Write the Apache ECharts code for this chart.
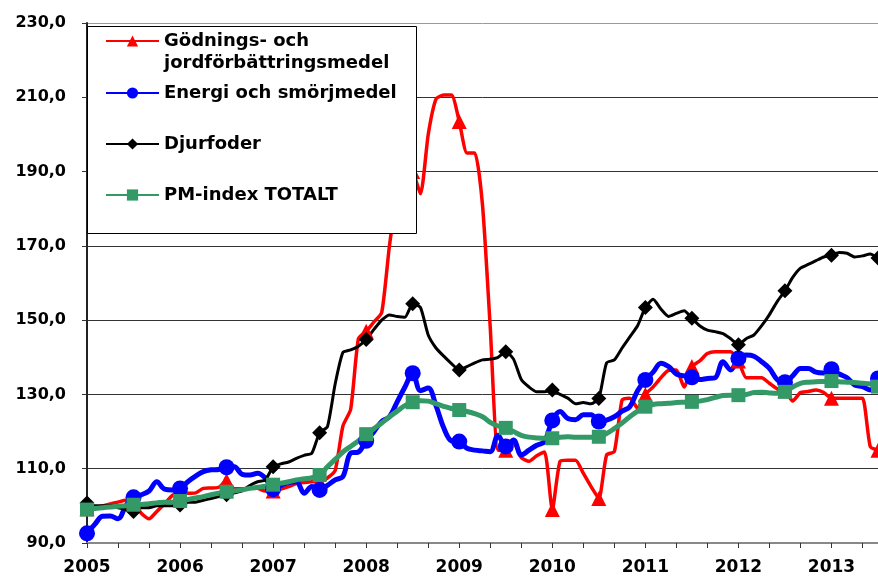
<!DOCTYPE html>
<html><head><meta charset="utf-8">
<script src="https://cdn.jsdelivr.net/npm/echarts@6/dist/echarts.min.js"></script>
<style>html,body{margin:0;padding:0;background:#fff}#c{width:878px;height:579px}</style>
</head><body><div id="c"></div><script>
// Monthly index values, Jan 2005 .. Jul 2013 (103 months)
const yearLabels = ['2005','2006','2007','2008','2009','2010','2011','2012','2013'];
const yTickLabels = ['90,0','110,0','130,0','150,0','170,0','190,0','210,0','230,0'];
const names = ['Gödnings- och\njordförbättringsmedel','Energi och smörjmedel','Djurfoder','PM-index TOTALT'];

const godning = [99.2,99.5,100,100.5,101,101.5,101,98,96.5,98.5,100.5,102.8,
103.4,103.4,103.5,104.7,104.8,105,106.8,104.6,104.6,104.8,104.7,104,
104,104.5,105.2,106,106.3,106.5,106.5,107.5,109.5,121.5,126,145,
147,149.5,152,170,184,191,190,184,200,209.5,210.6,210.6,
203.5,195,195,181,148,115,115,117,113,112,113.5,114.5,
99,112,112.3,112.3,108.8,105.2,102,113.7,114.6,128.5,129,126.3,
130,132,134.5,136.5,136.6,132,137.5,139,141,141.5,141.5,141.5,
139,134.5,134.5,134.5,133,131.5,131,128.2,130.5,130.8,131.2,130.5,
129,129,129,129,129,116,115];

const energi = [92.6,95,97.2,97.3,96.5,100,102.3,103,104,106.5,104.5,104.3,
104.7,106.5,108,109.2,109.7,109.8,110.4,110.5,108.5,108.3,108.8,107.5,
104.5,105.5,106.3,106.5,103.4,105.2,104.3,105.5,107,107.9,114.2,114.5,
117.5,120,122.7,124,128,132,135.7,131,131.7,127,121,117.5,
117.3,115.5,115,114.8,114.6,119,116,117.7,113.7,115,116.3,117.3,
123,125.4,123.5,123.2,124.5,124.5,122.7,123.1,124,125.5,126.7,131,
133.9,136,138.4,137.5,135.5,135,134.6,134,134.3,134.5,138.8,136.6,
139.7,140.6,140.3,138.8,137,134,133.3,135,137,137,136,135.8,
136.8,135.5,134.5,132.5,132.1,131.2,134.3];

const djurfoder = [100.8,100,100,100,99.5,99,98.5,99.5,99.5,100,100,100,
100.2,101,101,101.5,102,102.5,103,103.5,104,105.5,106.5,107,
110.5,111.3,111.8,112.8,113.6,114.2,119.7,121.3,132.8,141.3,142,143,
144.8,147.5,150,151.4,151,150.8,154.4,153.4,146,142.5,140.3,138.3,
136.6,137.5,138.5,139.3,139.5,140,141.5,139.5,134,132,130.7,130.7,
131.2,130,129,127.5,127.8,127.5,128.9,138.5,139.3,142.5,145.5,148.5,
153.4,155.6,153,151,151.8,152.5,150.5,148.5,147.3,146.9,146.4,145,
143.4,145,146,148.5,151.5,155,157.9,161.5,164,165,166,167,
167.5,168.2,168,167,167.3,167.8,166.7];

const pmTotal = [99,99.3,99.5,99.7,99.9,100,100.3,100.4,100.6,100.8,101,101,
101.3,101.7,102.1,102.5,103,103.4,103.8,104,104.3,104.7,105,105.3,
105.7,106.1,106.5,107,107.3,107.6,108.3,110.5,112.5,114.5,116,117.5,
119.3,120.8,122.3,124,125.5,127,127.9,128.3,128.2,127.5,126.8,126.2,
125.8,125.4,124.8,124,122.5,121.5,121,120,119,118.5,118.3,118.2,
118.2,118.5,118.6,118.5,118.5,118.5,118.6,119.5,120.8,122.3,124,125.5,
126.7,127.3,127.5,127.6,127.8,127.9,128,128.2,128.6,129.2,129.7,129.8,
129.8,130,130.5,130.6,130.4,130.3,130.7,132,133,133.3,133.4,133.5,
133.6,133.4,133.3,133.2,133,132.8,132.1];

function toData(arr) {
  return arr.map((v, i) => ({ value: [i, v], symbol: i % 6 === 0 ? undefined : 'none' }));
}

const FONT = 'DejaVu Sans';
const chart = echarts.init(document.getElementById('c'), null, { renderer: 'canvas' });

function mkSeries(name, arr, color, width, symbol, size, smooth) {
  return {
    name, type: 'line', data: toData(arr), symbol, symbolSize: size, smooth,
    lineStyle: { color, width }, itemStyle: { color }, showAllSymbol: true,
    emphasis: { disabled: true }, zlevel: 0, z: 2
  };
}

const legendText = {
  fontFamily: FONT, fontWeight: 'bold', fontSize: 18, color: '#000', lineHeight: 22,
  rich: {
    e: { fontFamily: FONT, fontWeight: 'bold', fontSize: 18, lineHeight: 22, color: '#000' },
    a: { fontFamily: FONT, fontWeight: 'bold', fontSize: 18, lineHeight: 22, color: '#000' }
  }
};
function mkLegend(name, left, top, extra) {
  return Object.assign({
    data: [name], left, top, orient: 'vertical', padding: 0, zlevel: 3, z: 5,
    itemWidth: 53, itemHeight: 14, itemGap: 0, selectedMode: false,
    textStyle: legendText
  }, extra || {});
}

chart.setOption({
  animation: false,
  backgroundColor: '#fff',
  grid: { left: 87, right: 0, top: 23, bottom: 36 },
  xAxis: {
    type: 'value', min: 0, max: 102, interval: 4,
    axisLine: { show: true, lineStyle: { color: '#888', width: 2 } },
    axisTick: { show: true, length: 5, lineStyle: { color: '#333', width: 1 } },
    splitLine: { show: false },
    axisLabel: {
      margin: 16, fontFamily: FONT, fontWeight: 'bold', fontSize: 17, color: '#000',
      showMaxLabel: false,
      formatter: v => (v % 12 === 0 ? yearLabels[v / 12] : '')
    }
  },
  yAxis: {
    type: 'value', min: 90, max: 230, interval: 20,
    axisLine: { show: true, lineStyle: { color: '#222', width: 2 } },
    axisTick: { show: true, length: 5, lineStyle: { color: '#333', width: 1 } },
    splitLine: { show: true, lineStyle: { color: ['#555','#333','#333','#333','#333','#333','#333','#999'], width: 1 } },
    axisLabel: {
      margin: 21, fontFamily: FONT, fontWeight: 'bold', fontSize: 16, color: '#000',
      formatter: v => yTickLabels[(v - 90) / 20]
    }
  },
  graphic: [{
    type: 'rect', zlevel: 2, z: 100, silent: true,
    shape: { x: 87.5, y: 26.5, width: 329, height: 207 },
    style: { fill: '#ffffff', stroke: '#000', lineWidth: 1 }
  }],
  legend: [
    mkLegend(names[0], 105, 8, {
      formatter: n => '{e| }\n' + n.split('\n').map(s => '{a|' + s + '}').join('\n')
    }),
    mkLegend(names[1], 105, 82),
    mkLegend(names[2], 105, 133),
    mkLegend(names[3], 105, 184)
  ],
  series: [
    mkSeries(names[0], godning, '#ff0000', 3.5, 'triangle', 15, 0.2),
    mkSeries(names[1], energi, '#0000ff', 5, 'circle', 16, 0.35),
    mkSeries(names[2], djurfoder, '#000000', 3, 'diamond', 15, 0.2),
    mkSeries(names[3], pmTotal, '#339966', 5, 'rect', 14, 0.4)
  ]
});
</script></body></html>
